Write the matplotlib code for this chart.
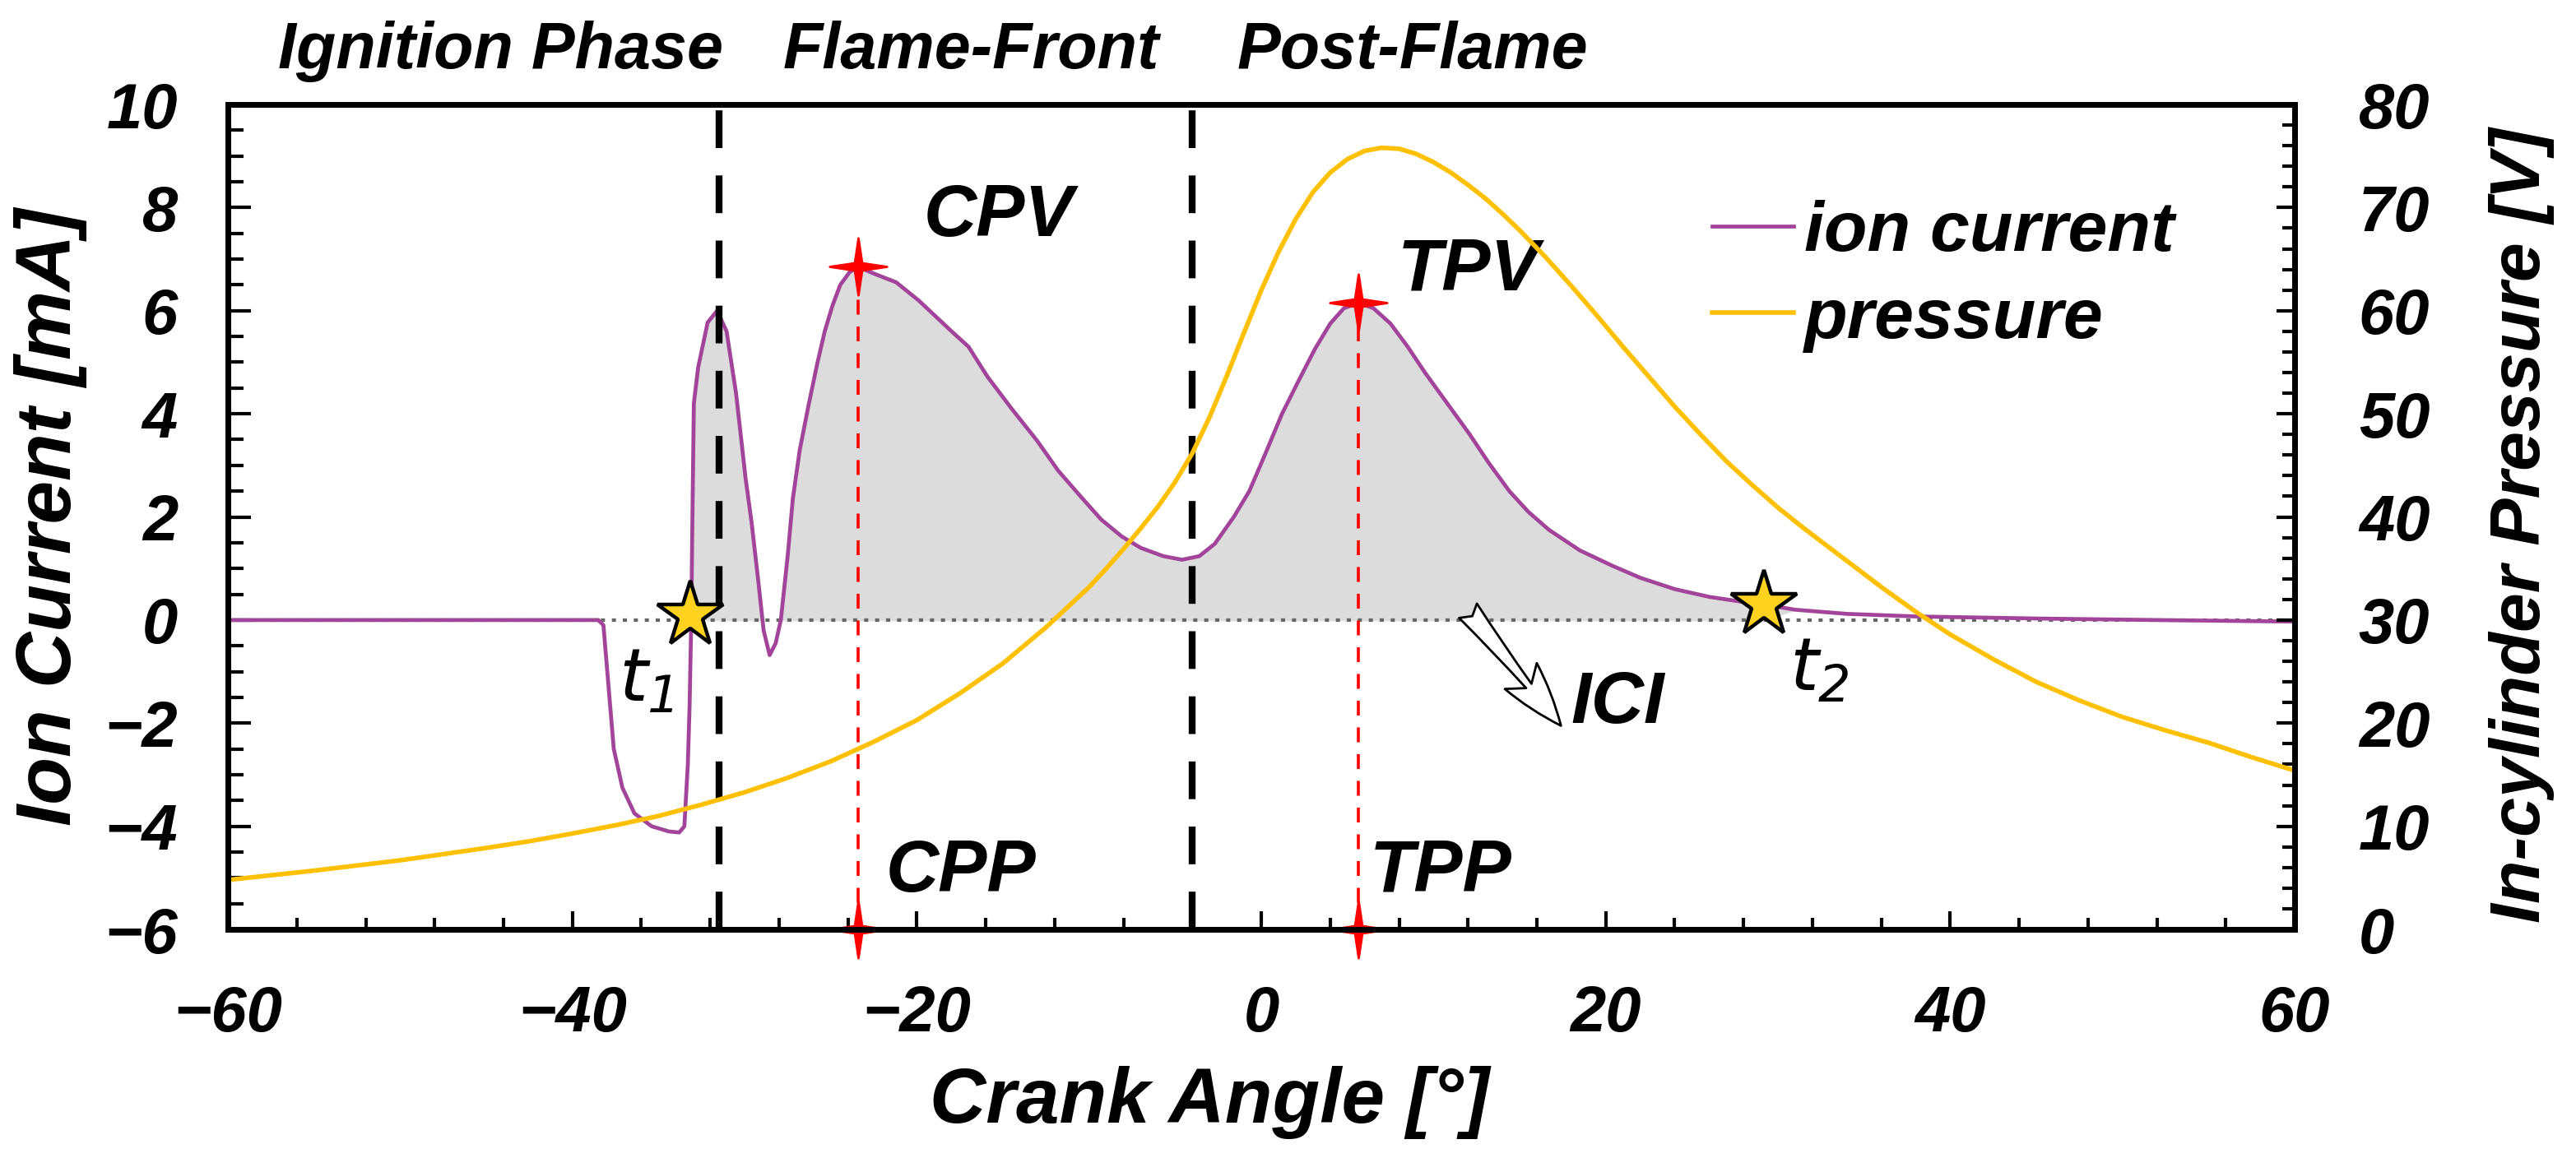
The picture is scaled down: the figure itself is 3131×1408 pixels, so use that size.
import matplotlib
matplotlib.use('Agg')
import matplotlib.pyplot as plt
from matplotlib.ticker import MultipleLocator
from matplotlib.path import Path
import numpy as np

# ion current trace
crank_angle = [-60, -50, -40, -38.5, -38.2, -37.8, -37.6, -37.1, -36.4, -35.4, -34.4, -33.8,
               -33.5, -33.3, -33.2, -33.1, -33.05, -32.95, -32.7, -32.15, -31.6, -31.05, -30.5,
               -29.95, -29.6, -29.2, -28.9, -28.55, -28.2, -27.9, -27.5, -27.2, -26.8, -26.3,
               -25.8, -25.35, -24.9, -24.45, -23.9, -23.4, -22.5, -21.2, -19.9, -18.05, -17.0,
               -15.9, -14.5, -13.0, -11.8, -10.5, -9.3, -8.1, -7.0, -5.7, -4.6, -3.6, -2.7,
               -1.6, -0.7, 0.2, 1.2, 2.1, 3.1, 4.0, 4.8, 5.65, 6.5, 7.5, 8.5, 9.5, 10.8, 12.1,
               13.2, 14.4, 15.5, 16.7, 18.5, 20.4, 22.0, 24.0, 26.0, 28.0, 29.2, 31.0, 34.0,
               38.0, 45.0, 52.0, 60.0]
ion_current = [0.0, 0.0, 0.0, 0.0, -0.1, -1.7, -2.5, -3.25, -3.75, -4.0, -4.1, -4.12,
               -4.0, -2.8, -1.7, 0.0, 1.5, 4.2, 4.9, 5.77, 6.0, 5.6, 4.4,
               2.76, 1.9, 0.73, -0.2, -0.68, -0.45, 0.0, 1.25, 2.36, 3.3, 4.15,
               4.95, 5.6, 6.1, 6.5, 6.75, 6.85, 6.72, 6.55, 6.2, 5.62, 5.3,
               4.72, 4.1, 3.47, 2.9, 2.4, 1.95, 1.62, 1.4, 1.24, 1.17, 1.24, 1.48,
               2.0, 2.5, 3.2, 4.0, 4.6, 5.25, 5.75, 6.05, 6.15, 6.05, 5.75, 5.3, 4.8, 4.2, 3.6,
               3.05, 2.5, 2.1, 1.75, 1.35, 1.05, 0.82, 0.6, 0.45, 0.35, 0.3, 0.2, 0.12,
               0.07, 0.03, 0.0, -0.03]

# in-cylinder pressure trace
pressure_angle = [-60, -57.5, -55, -52.5, -50, -47.5, -45, -42.5, -40, -37.5, -35, -32.5,
                  -30, -27.5, -25, -22.5, -20, -17.5, -15, -12.5, -10, -9, -8, -7, -6, -5,
                  -4, -3, -2, -1, 0, 1, 2, 3, 4, 5, 6, 7, 8, 9, 10, 11, 12, 13, 14, 15, 16.5,
                  18, 19.5, 21, 22.5, 24, 25.5, 27, 28.5, 30, 31.5, 33, 34.5, 36, 38, 40,
                  42.5, 45, 47.5, 50, 52.5, 55, 57.5, 60]
pressure = [4.8, 5.25, 5.7, 6.2, 6.7, 7.3, 7.9, 8.55, 9.3, 10.1, 11.0, 12.1,
            13.3, 14.7, 16.3, 18.2, 20.3, 22.9, 25.8, 29.3, 33.2, 35.0, 36.9, 38.9, 41.0, 43.4,
            46.2, 49.7, 53.7, 57.9, 62.0, 65.7, 68.9, 71.5, 73.4, 74.7, 75.5, 75.8, 75.7, 75.2,
            74.4, 73.4, 72.2, 70.9, 69.4, 67.8, 65.2,
            62.4, 59.5, 56.5, 53.6, 50.7, 48.0, 45.4, 43.1, 40.9, 38.9, 37.0, 35.1, 33.2, 30.8,
            28.6, 26.2, 24.0, 22.2, 20.6, 19.3, 18.1, 16.7, 15.4]

phase_names = ['Ignition Phase', 'Flame-Front', 'Post-Flame']
phase_bounds = [-31.5, -4.0]

cpv_angle, cpv_value = -23.4, 6.85
tpv_angle, tpv_value = 5.65, 6.15
t1_angle, t1_value = -33.15, 0.1
t2_angle, t2_value = 29.2, 0.3

ion_color = '#a3449b'
pressure_color = '#ffc000'

plt.rcParams['font.family'] = ['Liberation Sans', 'DejaVu Sans']
plt.rcParams['font.weight'] = 'bold'
plt.rcParams['font.style'] = 'italic'
plt.rcParams['axes.labelweight'] = 'bold'
plt.rcParams['mathtext.fontset'] = 'custom'
plt.rcParams['mathtext.it'] = 'DejaVu Sans:italic:normal'
plt.rcParams['mathtext.rm'] = 'DejaVu Sans:normal'
plt.rcParams['mathtext.default'] = 'it'

fig = plt.figure(figsize=(15.655, 7.04), dpi=200)
ax = fig.add_axes([0.0885, 0.1974, 0.8023, 0.7124])
ax2 = ax.twinx()

x = np.array(crank_angle)
y = np.array(ion_current)

ax.axhline(0, color='#666666', lw=1.5, ls=(0, (1.2, 2.0)), zorder=1)
mask = (x >= t1_angle) & (x <= t2_angle) & (y > 0)
ax.fill_between(x, y, 0, where=mask, color='#dcdcdc', interpolate=True, zorder=0)
ion_line, = ax.plot(x, y, color=ion_color, lw=1.7, zorder=3, label='ion current')

for b in phase_bounds:
    ax.axvline(b, color='black', lw=3, ls=(0, (5.5, 4)), zorder=4)

# red peak markers and drop lines
sparkle = Path([(0, 1), (0.13, 0.13), (1, 0), (0.13, -0.13), (0, -1), (-0.13, -0.13),
                (-1, 0), (-0.13, 0.13), (0, 1)], closed=True)
for ang, val in [(cpv_angle, cpv_value), (tpv_angle, tpv_value)]:
    ax.plot([ang, ang], [-6, val], color='red', lw=1.3, ls=(0, (5, 4)), zorder=2)
    ax.plot([ang, ang], [val, -6], ls='none', marker=sparkle, ms=25, color='red',
            mec='red', clip_on=False, zorder=6)

for ang, val in [(t1_angle, t1_value), (t2_angle, t2_value)]:
    ax.plot(ang, val, marker='*', ms=30, mfc='#ffd21f', mec='black', mew=1.6, zorder=6)

p_line, = ax2.plot(pressure_angle, pressure, color=pressure_color, lw=2.0, label='pressure')

ax.set_xlim(-60, 60)
ax.set_ylim(-6, 10)
ax2.set_ylim(0, 80)

ax.xaxis.set_major_locator(MultipleLocator(20))
ax.xaxis.set_minor_locator(MultipleLocator(4))
ax.yaxis.set_major_locator(MultipleLocator(2))
ax.yaxis.set_minor_locator(MultipleLocator(0.5))
ax2.yaxis.set_major_locator(MultipleLocator(10))
ax2.yaxis.set_minor_locator(MultipleLocator(2))

ax.tick_params(axis='x', which='major', direction='in', length=8, width=1.5, pad=24,
               labelsize=28, top=False)
ax.tick_params(axis='x', which='minor', direction='in', length=5, width=1.5, top=False)
ax.tick_params(axis='y', which='major', direction='in', length=10, width=1.5, pad=22,
               labelsize=28, right=False)
ax.tick_params(axis='y', which='minor', direction='in', length=7, width=1.5, right=False)
ax2.tick_params(axis='y', which='major', direction='in', length=8, width=1.5, pad=28,
                labelsize=28)
ax2.tick_params(axis='y', which='minor', direction='in', length=5.5, width=1.5)

for a in (ax, ax2):
    for s in a.spines.values():
        s.set_linewidth(2.5)

ax.set_xlabel('Crank Angle [°]', fontsize=34)
ax.xaxis.set_label_coords(0.475, -0.21)
ax.xaxis.label.set_va('center')
ax.set_ylabel('Ion Current [mA]', fontsize=34)
ax.yaxis.set_label_coords(-0.086, 0.5)
ax.yaxis.label.set_va('center')
ax2.set_ylabel('In-cylinder Pressure [V]', fontsize=31)
ax2.yaxis.set_label_coords(1.110, 0.49)
ax2.yaxis.label.set_va('center')

# phase labels above the frame
trans = ax.get_xaxis_transform()
for name, xpos in zip(phase_names, [-57.1, -27.8, -1.4]):
    ax.text(xpos, 1.044, name, transform=trans, fontsize=28.5, va='baseline', ha='left')

ax.text(-19.6, 7.45, 'CPV', fontsize=32, va='baseline')
ax.text(7.9, 6.4, 'TPV', fontsize=32, va='baseline')
ax.text(-21.8, -5.26, 'CPP', fontsize=32, va='baseline')
ax.text(6.3, -5.26, 'TPP', fontsize=32, va='baseline')
ax.text(18.0, -2.0, 'ICI', fontsize=32, va='baseline')
ax.text(-35.7, -1.2, r'$t_1$', fontsize=32, ha='center', va='center')
ax.text(32.4, -1.0, r'$t_2$', fontsize=32, ha='center', va='center')

ax.annotate('', xy=(17.4, -2.05), xytext=(12.0, 0.18),
            arrowprops=dict(arrowstyle='fancy,head_length=0.7,head_width=0.45,tail_width=0.25',
                            fc='white', ec='black', lw=1.0, mutation_scale=40,
                            shrinkA=0, shrinkB=0))

ax2.legend([ion_line, p_line], ['ion current', 'pressure'], loc='center left',
           bbox_to_anchor=(0.718, 0.792), frameon=False, fontsize=31, handlelength=1.15,
           handletextpad=0.15, labelspacing=0.3, borderpad=0, borderaxespad=0)

fig.savefig('out.png', dpi=200)
